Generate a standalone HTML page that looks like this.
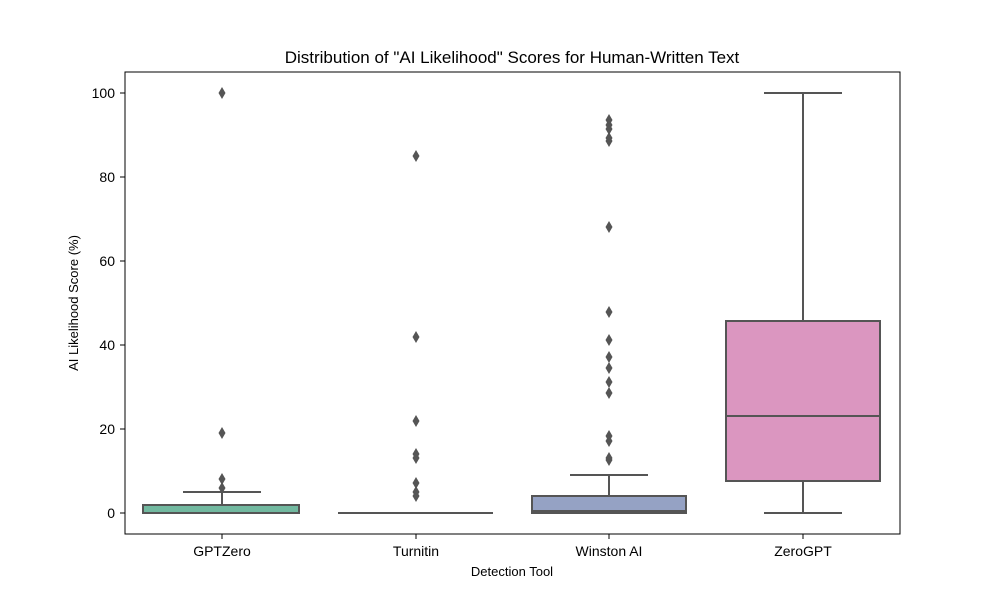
<!DOCTYPE html>
<html><head><meta charset="utf-8"><style>body{margin:0;background:#fff}svg{display:block}text{font-family:"Liberation Sans",sans-serif;fill:#000}</style></head><body>
<svg width="1000" height="600" xmlns="http://www.w3.org/2000/svg">
<defs><path id="d" d="M0,-6 L3.5,0 L0,6 L-3.5,0Z" fill="#555"/></defs>
<text x="512" y="63" font-size="17" text-anchor="middle">Distribution of "AI Likelihood" Scores for Human-Written Text</text>
<g stroke="#555" stroke-width="2" fill="none">
<rect x="143" y="505" width="156" height="8" fill="#72b9a0" stroke="#555"/>
<line x1="222" y1="505" x2="222" y2="492"/><line x1="183" y1="492" x2="261" y2="492"/>
<line x1="143" y1="513" x2="299" y2="513"/>
<line x1="338" y1="513" x2="493" y2="513"/>
<rect x="532" y="496" width="154" height="17" fill="#95a2c4"/>
<line x1="532" y1="511" x2="686" y2="511"/>
<line x1="609" y1="496" x2="609" y2="475"/><line x1="570" y1="475" x2="648" y2="475"/>
<rect x="726" y="321" width="154" height="160" fill="#db96c0"/>
<line x1="726" y1="416" x2="880" y2="416"/>
<line x1="803" y1="321" x2="803" y2="93"/><line x1="764" y1="93" x2="842" y2="93"/>
<line x1="803" y1="481" x2="803" y2="513"/><line x1="764" y1="513" x2="842" y2="513"/>
</g>
<g>
<use href="#d" x="222" y="93"/><use href="#d" x="222" y="433"/><use href="#d" x="222" y="479"/><use href="#d" x="222" y="488"/>
<use href="#d" x="416" y="156"/><use href="#d" x="416" y="337"/><use href="#d" x="416" y="421"/><use href="#d" x="416" y="454"/><use href="#d" x="416" y="458"/><use href="#d" x="416" y="483"/><use href="#d" x="416" y="492"/><use href="#d" x="416" y="496"/>
<use href="#d" x="609" y="120"/><use href="#d" x="609" y="125"/><use href="#d" x="609" y="129"/><use href="#d" x="609" y="138"/><use href="#d" x="609" y="141"/><use href="#d" x="609" y="227"/><use href="#d" x="609" y="312"/><use href="#d" x="609" y="340"/><use href="#d" x="609" y="357"/><use href="#d" x="609" y="368"/><use href="#d" x="609" y="382"/><use href="#d" x="609" y="393"/><use href="#d" x="609" y="436"/><use href="#d" x="609" y="441"/><use href="#d" x="609" y="458"/><use href="#d" x="609" y="460"/>
</g>
<rect x="125" y="72" width="775" height="462" fill="none" stroke="#000" stroke-width="1"/>
<g stroke="#000">
<line x1="120" y1="513" x2="125" y2="513"/><line x1="120" y1="429" x2="125" y2="429"/><line x1="120" y1="345" x2="125" y2="345"/><line x1="120" y1="261" x2="125" y2="261"/><line x1="120" y1="177" x2="125" y2="177"/><line x1="120" y1="93" x2="125" y2="93"/>
<line x1="222" y1="534" x2="222" y2="539"/><line x1="416" y1="534" x2="416" y2="539"/><line x1="609" y1="534" x2="609" y2="539"/><line x1="803" y1="534" x2="803" y2="539"/>
</g>
<g font-size="14" text-anchor="end">
<text x="115" y="518">0</text><text x="115" y="434">20</text><text x="115" y="350">40</text><text x="115" y="266">60</text><text x="115" y="182">80</text><text x="115" y="98">100</text>
</g>
<g font-size="14" text-anchor="middle">
<text x="222" y="556">GPTZero</text><text x="416" y="556">Turnitin</text><text x="609" y="556">Winston AI</text><text x="803" y="556">ZeroGPT</text>
</g>
<text x="512" y="576" font-size="13" text-anchor="middle">Detection Tool</text>
<text transform="translate(78,303) rotate(-90)" font-size="13" text-anchor="middle">AI Likelihood Score (%)</text>
</svg>
</body></html>
